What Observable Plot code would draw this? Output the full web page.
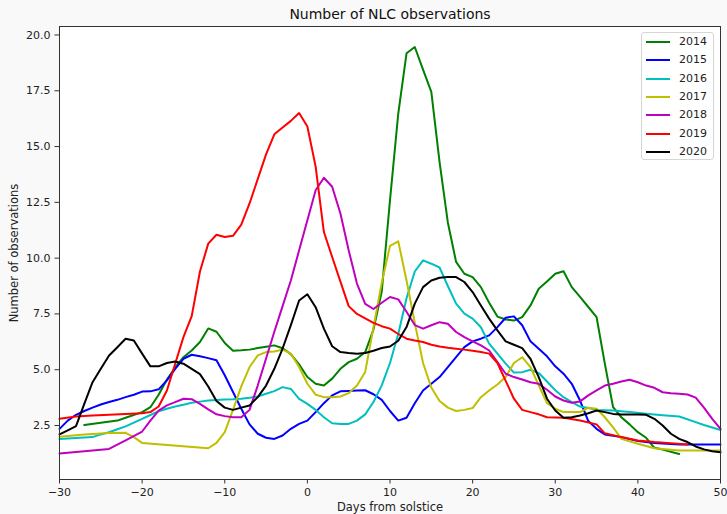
<!DOCTYPE html>
<html><head><meta charset="utf-8">
<script src="https://cdn.jsdelivr.net/npm/d3@7"></script>
<script src="https://cdn.jsdelivr.net/npm/@observablehq/plot@0.6"></script>
<style>
html,body{margin:0;padding:0;background:#f9f9f9;}
#wrap{position:relative;width:727px;height:514px;font-family:"DejaVu Sans",sans-serif;}
#legend{position:absolute;left:641px;top:32px;width:73px;height:128px;background:rgba(255,255,255,0.85);border:1px solid #d6d6d6;border-radius:3px;box-sizing:border-box;}
.row{position:absolute;left:0;height:14px;font-size:11px;color:#222;}
.sw{position:absolute;left:4px;top:6px;width:24px;height:2px;}
.lab{position:absolute;left:37px;top:0;line-height:14px;}
</style></head><body><div id="wrap"><div id="legend"></div></div>
<script>
const years = ["2014","2015","2016","2017","2018","2019","2020"];
const colors = ["#008000","#0000ff","#00bfbf","#bfbf00","#bf00bf","#ff0000","#000000"];
const xTicks = [-30,-20,-10,0,10,20,30,40,50];
const yTicks = [2.5,5,7.5,10,12.5,15,17.5,20];
const titleText = "Number of NLC observations";
const xLabel = "Days from solstice";
const yLabel = "Number of observations";

const days2014 = [-27,-23,-22,-20,-19,-18,-17,-16,-15,-14,-13,-12,-11,-10,-9,-8,-7,-6,-5,-4,-3,-2,-1,0,1,2,3,4,5,6,7,8,9,10,11,12,13,14,15,16,17,18,19,20,21,22,23,24,25,26,27,28,29,30,31,32,33,34,35,36,37,38,39,40,41,42,43,45];
const obs2014 = [2.52,2.72,2.85,3.1,3.32,3.88,4.56,5.1,5.56,5.86,6.24,6.85,6.7,6.2,5.85,5.87,5.9,5.97,6.03,6.09,5.96,5.7,5.24,4.67,4.37,4.29,4.6,5.04,5.34,5.49,5.79,6.8,8.5,12.6,16.48,19.18,19.46,18.45,17.45,14.3,11.6,9.83,9.3,9.15,8.7,8.0,7.38,7.25,7.2,7.36,7.88,8.63,8.95,9.3,9.41,8.7,8.26,7.81,7.36,5.27,3.32,2.87,2.55,2.2,1.95,1.5,1.42,1.22];

const days2015 = [-30,-29,-28,-27,-26,-25,-24,-23,-22,-21,-20,-19,-18,-17,-16,-15,-14,-13,-12,-11,-10,-9,-8,-7,-6,-5,-4,-3,-2,-1,0,1,2,3,4,5,6,7,8,9,10,11,12,13,14,15,16,17,18,19,20,21,22,23,24,25,26,27,28,29,30,31,32,33,34,35,36,38,40,42,45,50];
const obs2015 = [2.35,2.72,2.98,3.15,3.3,3.44,3.55,3.65,3.77,3.88,4.02,4.03,4.12,4.52,5.04,5.49,5.67,5.6,5.52,5.42,4.75,4.0,3.25,2.55,2.13,1.95,1.9,2.05,2.35,2.57,2.72,3.1,3.5,3.85,4.03,4.05,4.07,4.08,3.9,3.65,3.15,2.72,2.85,3.5,4.07,4.37,4.67,5.12,5.56,6.01,6.27,6.39,6.54,6.91,7.33,7.39,6.99,6.27,5.94,5.6,5.15,4.82,4.37,3.62,2.7,2.35,2.1,1.98,1.8,1.71,1.65,1.65];

const days2016 = [-30,-26,-25,-24,-23,-22,-21,-20,-19,-18,-17,-16,-15,-14,-13,-12,-11,-10,-9,-8,-7,-6,-5,-4,-3,-2,-1,0,1,2,3,4,5,6,7,8,9,10,11,12,13,14,15,16,17,18,19,20,21,22,23,24,25,26,27,28,29,30,31,32,33,34,35,37,39,41,43,45,47,48,50];
const obs2016 = [1.9,1.98,2.1,2.2,2.33,2.46,2.63,2.8,2.97,3.14,3.25,3.35,3.43,3.52,3.57,3.62,3.64,3.67,3.68,3.7,3.74,3.8,3.92,4.04,4.22,4.14,3.69,3.47,3.2,2.87,2.6,2.57,2.57,2.72,3.0,3.55,4.3,5.3,6.6,8.2,9.4,9.9,9.75,9.58,8.75,7.96,7.51,7.29,6.9,6.17,5.72,5.27,4.87,4.89,5.0,4.85,4.47,4.08,3.77,3.55,3.35,3.28,3.2,3.17,3.1,3.03,2.96,2.9,2.65,2.52,2.3];

const days2017 = [-30,-27,-24,-22,-21,-20,-12,-11,-10,-9,-8,-7,-6,-5,-4,-3,-2,-1,0,1,2,3,4,5,6,7,8,9,10,11,12,13,14,15,16,17,18,19,20,21,22,23,24,25,26,27,28,29,30,31,33,34,35,36,37,38,40,42,45,50];
const obs2017 = [2.0,2.1,2.16,2.17,1.98,1.72,1.48,1.72,2.2,3.2,4.25,5.12,5.64,5.79,5.82,5.9,5.72,5.12,4.37,3.88,3.77,3.77,3.8,3.95,4.29,4.9,6.9,8.9,10.55,10.75,9.0,7.1,5.3,4.2,3.6,3.3,3.15,3.2,3.28,3.77,4.07,4.34,4.67,5.3,5.56,5.12,4.3,3.5,3.25,3.1,3.1,3.3,3.25,2.87,2.42,1.9,1.68,1.48,1.38,1.38];

const days2018 = [-30,-24,-22,-20,-19,-18,-17,-16,-15,-14,-13,-12,-11,-10,-9,-8,-7,-6,-5,-4,-3,-2,-1,0,1,2,3,4,5,6,7,8,9,10,11,12,13,14,15,16,17,18,19,20,21,22,23,24,25,26,27,28,29,30,31,32,33,34,35,36,37,38,39,40,41,42,43,44,45,46,47,48,49,50];
const obs2018 = [1.25,1.45,1.83,2.23,2.72,3.17,3.4,3.55,3.7,3.68,3.47,3.22,3.0,2.92,2.87,2.87,3.2,4.3,5.5,6.7,7.85,9.0,10.35,11.7,13.04,13.6,13.2,12.0,10.35,8.86,7.95,7.72,8.0,8.26,8.15,7.6,7.0,6.84,6.99,7.13,7.06,6.69,6.46,6.27,6.09,5.86,5.34,4.82,4.67,4.56,4.44,4.37,4.1,3.8,3.62,3.52,3.58,3.85,4.07,4.29,4.37,4.47,4.55,4.44,4.29,4.19,3.99,3.95,3.92,3.89,3.75,3.3,2.8,2.35];

const days2019 = [-30,-28,-26,-24,-22,-20,-19,-18,-17,-16,-15,-14,-13,-12,-11,-10,-9,-8,-7,-6,-5,-4,-3,-2,-1,0,1,2,3,4,5,6,7,8,9,10,11,12,13,14,15,16,17,18,19,20,21,22,23,24,25,26,27,28,29,31,33,35,36,38,40,42,44,46];
const obs2019 = [2.8,2.9,2.95,2.98,3.02,3.05,3.1,3.35,4.07,5.27,6.46,7.4,9.4,10.65,11.05,10.95,11.0,11.5,12.45,13.55,14.65,15.55,15.85,16.15,16.5,15.9,14.1,11.17,10.05,8.95,7.85,7.5,7.3,7.1,6.95,6.84,6.6,6.39,6.31,6.24,6.12,6.04,5.98,5.94,5.9,5.85,5.79,5.72,5.3,4.5,3.7,3.2,3.1,3.0,2.87,2.85,2.72,2.55,2.15,1.98,1.83,1.76,1.71,1.65];

const days2020 = [-30,-29,-28,-27,-26,-25,-24,-23,-22,-21,-20,-19,-18,-17,-16,-15,-14,-13,-12,-11,-10,-9,-8,-7,-6,-5,-4,-3,-2,-1,0,1,2,3,4,5,6,7,8,9,10,11,12,13,14,15,16,17,18,19,20,21,22,23,24,25,26,27,28,29,30,31,32,33,34,35,36,37,38,40,41,42,43,44,45,46,47,48,49,50];
const obs2020 = [2.1,2.28,2.47,3.47,4.44,5.04,5.64,6.01,6.39,6.31,5.72,5.15,5.15,5.3,5.37,5.27,5.04,4.8,4.25,3.6,3.3,3.2,3.3,3.4,3.77,4.29,5.04,5.95,7.0,8.1,8.38,7.8,6.84,6.05,5.79,5.75,5.72,5.75,5.85,5.97,6.04,6.3,6.91,7.96,8.7,9.0,9.12,9.15,9.15,8.93,8.48,7.88,7.29,6.76,6.27,6.12,5.97,5.49,4.67,3.7,3.17,2.85,2.87,2.95,3.05,3.17,3.1,3.02,2.99,2.99,2.98,2.8,2.5,2.13,1.9,1.76,1.56,1.43,1.35,1.3];

const seriesDays = [days2014,days2015,days2016,days2017,days2018,days2019,days2020];
const seriesObs = [obs2014,obs2015,obs2016,obs2017,obs2018,obs2019,obs2020];

const rows = [];
years.forEach((yr,i)=>{
  seriesDays[i].forEach((d,j)=>rows.push({year:yr, day:d, value:seriesObs[i][j]}));
});

const chart = Plot.plot({
  width:727, height:514,
  marginLeft:59, marginRight:7, marginTop:26, marginBottom:35,
  style:{background:"transparent", fontFamily:"DejaVu Sans, sans-serif", fontSize:"11px", color:"#222"},
  x:{domain:[-30,50]},
  y:{domain:[0.08,20.38]},
  color:{domain:years, range:colors},
  marks:[
    Plot.frame({fill:"white", stroke:null}),
    Plot.line(rows,{x:"day", y:"value", z:"year", stroke:"year", strokeWidth:2}),
    Plot.axisX({ticks:xTicks, tickFormat:d3.format("d"), tickSize:4.5, tickPadding:4.5, label:null, stroke:"#333"}),
    Plot.axisY({ticks:yTicks, tickFormat:d3.format(".1f"), tickSize:4.5, tickPadding:4.5, label:null, stroke:"#333"}),
    Plot.frame({stroke:"#333", strokeWidth:1}),
    Plot.text([titleText],{text:d=>d, frameAnchor:"top", lineAnchor:"middle", dy:-12, fontSize:14, fill:"#111"}),
    Plot.text([xLabel],{text:d=>d, frameAnchor:"bottom", lineAnchor:"middle", dy:28, fontSize:11.5, fill:"#222"}),
    Plot.text([yLabel],{text:d=>d, frameAnchor:"left", textAnchor:"middle", lineAnchor:"middle", dx:-45, rotate:-90, fontSize:11.5, fill:"#222"})
  ]
});
document.getElementById("wrap").prepend(chart);

const leg = document.getElementById("legend");
years.forEach((yr,i)=>{
  const r = document.createElement("div");
  r.className="row";
  r.style.top = (2 + i*18.3) + "px";
  r.innerHTML = `<div class="sw" style="background:${colors[i]}"></div><div class="lab">${yr}</div>`;
  leg.appendChild(r);
});
</script></body></html>
